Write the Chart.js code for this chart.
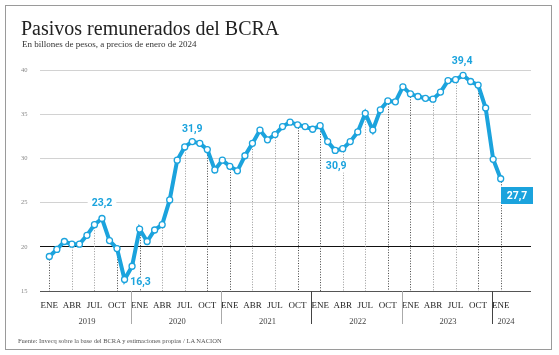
<!DOCTYPE html>
<html><head><meta charset="utf-8">
<script src="https://cdn.jsdelivr.net/npm/chart.js@4.4.1/dist/chart.umd.min.js"></script>
<style>
html,body{margin:0;padding:0;background:#fff;}
#wrap{position:relative;width:559px;height:355px;overflow:hidden;background:#fff;}
#frame{position:absolute;left:5px;top:5px;width:547px;height:345px;box-sizing:border-box;border:1px solid #9a9a9a;}
canvas{position:absolute;left:0;top:0;}
.t{position:absolute;font-family:'Liberation Serif',serif;white-space:nowrap;line-height:1;}
#title{left:21px;top:18px;font-size:20px;color:#222;}
#sub{left:22px;top:40px;font-size:9px;color:#333;}
#src{left:18px;top:337.5px;font-size:6.5px;color:#555;}
</style></head>
<body>
<div id="wrap">
  <div id="frame"></div>
  <canvas id="c" width="559" height="355"></canvas>
  <div class="t" id="title">Pasivos remunerados del BCRA</div>
  <div class="t" id="sub">En billones de pesos, a precios de enero de 2024</div>
  <div class="t" id="src">Fuente: Invecq sobre la base del BCRA y estimaciones propias / LA NACION</div>
</div>
<script>
// ---- data ----
const monthNames = ['ENE','FEB','MAR','ABR','MAY','JUN','JUL','AGO','SEP','OCT','NOV','DIC'];
const years = ['2019','2020','2021','2022','2023','2024'];
const values = [
  18.9, 19.7, 20.6, 20.3, 20.3, 21.3, 22.5, 23.2, 20.7, 19.8, 16.3, 17.8,
  22.0, 20.6, 21.9, 22.5, 25.3, 29.8, 31.3, 31.9, 31.7, 31.0, 28.7, 29.8,
  29.1, 28.6, 30.3, 31.7, 33.2, 32.1, 32.7, 33.6, 34.1, 33.8, 33.6, 33.3,
  33.7, 31.9, 30.9, 31.1, 31.9, 33.0, 35.1, 33.2, 35.5, 36.5, 36.4, 38.1,
  37.3, 37.0, 36.8, 36.7, 37.5, 38.8, 38.9, 39.4, 38.7, 38.3, 35.7, 29.9,
  27.7
];
const monthLabels = values.map((_, i) => monthNames[i % 12]);
const yTickValues = [15, 20, 25, 30, 35, 40];
const calloutIdx = [7, 10, 19, 38, 55, 60];

// ---- styling ----
const BLUE = '#1ba3dd';
const SERIF = "'Liberation Serif', 'Times New Roman', serif";
const SANS = "Roboto, 'Liberation Sans', sans-serif";
const calloutStyle = {
  7:  {dx: 0,  dy: -15},
  10: {dx: 16, dy: 3},
  19: {dx: 0,  dy: -12.5},
  38: {dx: 1,  dy: 16},
  55: {dx: -1, dy: -14},
  60: {box: true}
};
const fmt = v => v.toFixed(1).replace('.', ',');

const deco = {
  id: 'deco',
  beforeDatasetsDraw(chart) {
    const {ctx, scales: {x, y}, chartArea: a} = chart;
    ctx.save();
    // dotted drop lines at labelled months
    ctx.lineWidth = 1;
    ctx.setLineDash([1, 1.6]);
    values.forEach((v, i) => {
      if (i % 3) return;
      const px = Math.round(x.getPixelForValue(i)) + 0.5;
      ctx.strokeStyle = (i % 12 === 3 || i % 12 === 6) ? '#9a9a9a' : '#444';
      ctx.beginPath();
      ctx.moveTo(px, y.getPixelForValue(v) + 3);
      ctx.lineTo(px, a.bottom);
      ctx.stroke();
    });
    ctx.setLineDash([]);
    // white backgrounds behind callouts (break gridlines)
    ctx.font = 'bold 10.5px ' + SANS;
    calloutIdx.forEach(i => {
      const s = calloutStyle[i];
      if (s.box) return;
      const cx = x.getPixelForValue(i) + s.dx, cy = y.getPixelForValue(values[i]) + s.dy;
      const w = ctx.measureText(fmt(values[i])).width + 8;
      ctx.fillStyle = '#fff';
      ctx.fillRect(cx - w / 2, cy - 6, w, 12);
    });
    ctx.restore();
  },
  afterDatasetsDraw(chart) {
    const {ctx, scales: {x, y}, chartArea: a} = chart;
    ctx.save();
    ctx.font = 'bold 10.5px ' + SANS;
    ctx.textAlign = 'center';
    ctx.textBaseline = 'middle';
    calloutIdx.forEach(i => {
      const s = calloutStyle[i];
      const px = x.getPixelForValue(i), py = y.getPixelForValue(values[i]);
      if (s.box) {
        const bx = Math.round(px), by = Math.round(py + 8);
        ctx.fillStyle = BLUE;
        ctx.fillRect(bx, by, 32, 17);
        ctx.fillStyle = '#fff';
        ctx.fillText(fmt(values[i]), bx + 16, by + 9);
      } else {
        ctx.fillStyle = BLUE;
        ctx.fillText(fmt(values[i]), px + s.dx, py + s.dy);
      }
    });
    // year separators and year labels
    ctx.font = '8.5px ' + SERIF;
    ctx.fillStyle = '#444';
    ctx.lineWidth = 1;
    years.forEach((yr, k) => {
      const jan = k * 12;
      if (k > 0) {
        const sx = Math.round(x.getPixelForValue(jan - 1.15)) + 0.5;
        ctx.strokeStyle = (k === 3 || k === 5) ? '#444' : '#aaa';
        ctx.beginPath();
        ctx.moveTo(sx, a.bottom);
        ctx.lineTo(sx, a.bottom + 33);
        ctx.stroke();
      }
      const cx = x.getPixelForValue(k === years.length - 1 ? jan + 0.7 : jan + 5);
      ctx.fillText(yr, cx, a.bottom + 31);
    });
    ctx.restore();
  }
};

Chart.defaults.font.family = SERIF;

new Chart(document.getElementById('c'), {
  type: 'line',
  data: {
    datasets: [{
      data: values.map((v, i) => ({x: i, y: v})),
      borderColor: BLUE,
      borderWidth: 4,
      pointRadius: 3,
      pointBorderWidth: 1.3,
      pointBackgroundColor: '#fff',
      pointBorderColor: BLUE,
      tension: 0,
      clip: false
    }]
  },
  options: {
    responsive: false,
    animation: false,
    devicePixelRatio: 1,
    layout: {padding: {top: 70, right: 28, bottom: 0, left: 0}},
    plugins: {legend: {display: false}, tooltip: {enabled: false}},
    scales: {
      x: {
        type: 'linear',
        min: -1.24,
        max: 64.03,
        afterBuildTicks: s => { s.ticks = values.map((_, i) => ({value: i})); },
        afterFit: s => { s.height = 64; },
        grid: {display: false, drawTicks: false},
        border: {display: false},
        ticks: {
          autoSkip: false,
          maxRotation: 0,
          padding: 9,
          color: '#222',
          font: {size: 9, family: SERIF},
          callback: (v) => (v % 3 === 0 ? monthLabels[v] : '')
        }
      },
      y: {
        min: 15,
        max: 40,
        afterBuildTicks: s => { s.ticks = yTickValues.map(v => ({value: v})); },
        afterFit: s => { s.width = 40; },
        grid: {
          drawTicks: false,
          lineWidth: 1,
          color: c => c.tick.value === 20 ? '#111' : (c.tick.value === 15 ? '#555' : '#d2d2d2')
        },
        border: {display: false},
        ticks: {
          padding: 12.5,
          color: '#888',
          font: {size: 6.5, family: SERIF}
        }
      }
    }
  },
  plugins: [deco]
});
</script>
</body></html>
